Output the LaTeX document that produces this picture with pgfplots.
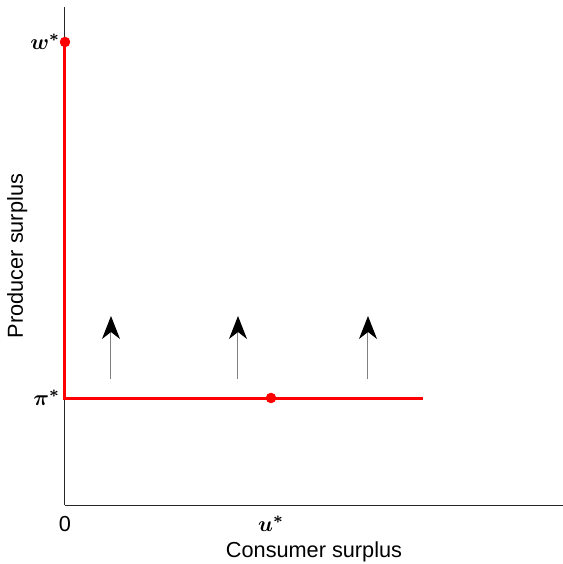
\documentclass[border=0pt]{standalone}
\usepackage{pgfplots}
\pgfplotsset{compat=1.18}
\usepackage{amsmath}
\usepackage{fontspec}
\setmainfont{Liberation Sans}
\usetikzlibrary{arrows.meta}
\definecolor{axgray}{gray}{0.15}
\begin{document}
\begin{tikzpicture}
\begin{axis}[
  name=ax,
  scale only axis,
  width=249pt, height=249pt,
  xmin=0, xmax=498, ymin=0, ymax=498,
  axis lines*=left,
  axis line style={axgray, line width=0.5pt},
  separate axis lines,
  x axis line style={-}, y axis line style={-},
  clip=false,
  font=\fontsize{10.85}{13}\selectfont,
  major tick length=0pt,
  xtick={0,206}, xticklabels={0,$\boldsymbol{u^*}$},
  ytick={107,463}, yticklabels={$\boldsymbol{\pi^*}$,$\boldsymbol{w^*}$},
  xticklabel style={anchor=base, yshift=-13pt},
  yticklabel style={anchor=east, xshift=1pt},
  xlabel={Consumer surplus},
  ylabel={Producer surplus},
  xlabel style={at={(axis description cs:0.5,0)}, anchor=base, yshift=-26pt},
  ylabel style={at={(axis description cs:0,0.5)}, anchor=base, yshift=21pt},
]
\addplot[red, line width=1.5pt] coordinates {(0,463) (0,107) (357.7,107)};
\addplot[only marks, mark=*, mark size=2.4pt, red, mark options={fill=red, draw=red}] coordinates {(0,463) (206,107)};
\addplot[gray, line width=0.5pt, -{Stealth[color=black, fill=black, length=11.5pt, width=9pt, inset=3.5pt]}] coordinates {(46,126) (46,189)};
\addplot[gray, line width=0.5pt, -{Stealth[color=black, fill=black, length=11.5pt, width=9pt, inset=3.5pt]}] coordinates {(173,126) (173,189)};
\addplot[gray, line width=0.5pt, -{Stealth[color=black, fill=black, length=11.5pt, width=9pt, inset=3.5pt]}] coordinates {(303,126) (303,189)};
\end{axis}
\pgfresetboundingbox
\path ([shift={(-32.5pt,-29.5pt)}]ax.south west) rectangle ([shift={(0pt,3.5pt)}]ax.north east);
\end{tikzpicture}
\end{document}
